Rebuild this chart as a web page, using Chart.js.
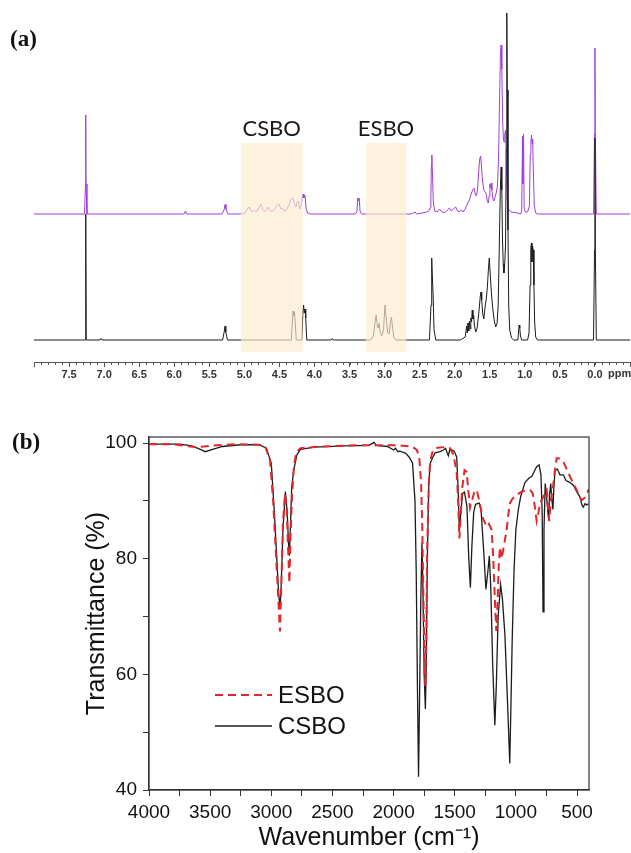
<!DOCTYPE html>
<html>
<head>
<meta charset="utf-8">
<script src="https://cdn.jsdelivr.net/npm/chart.js"></script>
<style>
  body { margin: 0; background: #fff; }
  #wrap { position: relative; width: 631px; height: 853px; }
  canvas { position: absolute; left: 0; }
  #nmrChart { top: 0; }
  #irChart { top: 395px; }
</style>
</head>
<body>
<div id="wrap">
  <canvas id="nmrChart" width="631" height="385"></canvas>
  <canvas id="irChart" width="631" height="458"></canvas>
</div>
<script>
// ── (a) 1H NMR traces: chemical shift (ppm) / signal height ──
// ESBO, lower black trace
const nmrEsboShift = [
  8.0, 7.30, 7.27, 7.262, 7.255, 7.06, 7.045, 7.03,
  5.31, 5.285, 5.275, 5.265, 5.24,
  4.33, 4.315, 4.305, 4.295, 4.285, 4.275, 4.26,
  4.18, 4.165, 4.155, 4.145, 4.135, 4.125, 4.11,
  3.76, 3.745, 3.73,
  3.20, 3.16, 3.135, 3.12, 3.105, 3.09, 3.078, 3.065, 3.04, 3.015, 2.995, 2.98,
  2.955, 2.935, 2.915, 2.902, 2.89, 2.87, 2.84,
  2.36, 2.338, 2.328, 2.318, 2.308, 2.295, 2.27,
  1.92, 1.85, 1.83, 1.82, 1.81, 1.80, 1.79, 1.78, 1.77, 1.76, 1.75, 1.74, 1.73, 1.72,
  1.70, 1.68, 1.655, 1.635, 1.625, 1.615, 1.60, 1.585, 1.565, 1.55, 1.535, 1.52,
  1.507, 1.495, 1.475, 1.455, 1.435, 1.415, 1.395, 1.38, 1.365, 1.35, 1.338, 1.328,
  1.318, 1.308, 1.298, 1.288, 1.275, 1.265, 1.257, 1.25, 1.24, 1.23, 1.215, 1.19, 1.16,
  1.10, 1.09, 1.082, 1.072, 1.062, 1.045,
  0.96, 0.94, 0.925, 0.915, 0.905, 0.898, 0.89, 0.88, 0.87, 0.86, 0.845, 0.82,
  0.02, 0.006, 0.0, -0.006, -0.02, -0.5
];
const nmrEsboSignal = [
  0, 0, 0, 126, 0, 0, 1.5, 0,
  0, 9, 14, 8, 0,
  0, 20, 29, 24, 28, 18, 0,
  0, 28, 35, 27, 31, 22, 0,
  0, 1.5, 0,
  0, 4, 18, 25, 14, 12, 17, 9, 4, 10, 35, 24,
  7, 6, 18, 23, 15, 3, 0,
  0, 35, 82, 62, 45, 10, 0,
  0, 3, 14, 7, 17, 9, 19, 11, 22, 18, 30, 21, 25, 15,
  8, 12, 28, 44, 48, 40, 26, 21, 34, 41, 52, 70,
  82, 68, 45, 30, 19, 13, 17, 35, 90, 150, 173, 150,
  100, 76, 67, 74, 95, 190, 327, 250, 110, 35, 10, 2, 0,
  0, 7, 15, 12, 4, 0,
  0, 7, 55, 92, 97, 78, 94, 90, 55, 18, 3, 0,
  0, 90, 202, 90, 0, 0
];
// CSBO, upper purple trace
const nmrCsboShift = [
  8.0, 7.28, 7.266, 7.262, 7.258, 7.245,
  5.86, 5.84, 5.825,
  5.32, 5.29, 5.275, 5.262, 5.235,
  5.06, 4.99, 4.955, 4.935, 4.91, 4.885, 4.855, 4.83, 4.795, 4.765, 4.74, 4.71,
  4.68, 4.655, 4.63, 4.60, 4.57, 4.53, 4.505, 4.48, 4.455, 4.43, 4.40, 4.37,
  4.335, 4.305, 4.285, 4.265, 4.245, 4.228, 4.21, 4.19, 4.172, 4.162, 4.152,
  4.142, 4.132, 4.118, 4.10, 4.06,
  3.42, 3.395, 3.383, 3.372, 3.362, 3.35, 3.33,
  2.62, 2.565, 2.545, 2.46, 2.40, 2.37, 2.35, 2.34, 2.332, 2.326, 2.318, 2.305, 2.285, 2.25,
  2.215, 2.185, 2.14, 2.105, 2.075, 2.05, 2.02, 1.985, 1.96, 1.93, 1.905, 1.88,
  1.85, 1.82, 1.79, 1.765, 1.745, 1.725, 1.708, 1.69, 1.675, 1.658, 1.645, 1.632,
  1.62, 1.605, 1.585, 1.565, 1.55, 1.535, 1.52, 1.51, 1.498, 1.49, 1.48, 1.47,
  1.455, 1.44, 1.425, 1.405, 1.39, 1.375, 1.36, 1.348, 1.338, 1.328, 1.315, 1.305,
  1.295, 1.285, 1.275, 1.265, 1.252, 1.235, 1.20, 1.10,
  1.06, 1.045, 1.033, 1.027, 1.018, 1.01, 0.995, 0.96,
  0.935, 0.922, 0.913, 0.905, 0.897, 0.888, 0.878, 0.865, 0.845, 0.82,
  0.02, 0.006, 0.0, -0.006, -0.02, -0.5
];
const nmrCsboSignal = [
  0, 0, 30, 99, 30, 0,
  0, 3, 0,
  0, 4, 9.5, 5, 0,
  0, 1, 5, 7, 4, 2, 4, 2, 6, 10, 5, 2.5,
  4, 7, 3, 2.5, 5, 9, 10, 5, 6, 3, 4, 8,
  15, 16, 10, 7, 12, 13, 5, 8, 18, 20, 16,
  19, 17, 5, 1, 0,
  0, 2, 16, 13, 16, 3, 0,
  0, 2, 0, 1, 2, 3, 6, 18, 50, 59, 42, 12, 3, 2,
  5, 2, 1.5, 4, 6, 3, 5, 7, 3, 2.5, 4, 2,
  5, 10, 14, 20, 24, 26, 20, 18, 24, 42, 54, 58,
  50, 34, 24, 22, 20, 13, 11, 18, 30, 26, 31, 24,
  15, 13, 17, 22, 28, 55, 115, 160, 169, 145, 90, 74,
  72, 80, 84, 55, 15, 5, 2, 1,
  0, 3, 78, 30, 80, 6, 2, 2,
  8, 60, 72, 79, 70, 75, 40, 8, 1, 0,
  0, 80, 166, 80, 0, 0
];
const nmrTickLabels = ['7.5', '7.0', '6.5', '6.0', '5.5', '5.0', '4.5', '4.0',
  '3.5', '3.0', '2.5', '2.0', '1.5', '1.0', '0.5', '0.0'];
const nmrRegionLabels = ['CSBO', 'ESBO'];
const nmrRegionFrom = [5.05, 3.27];
const nmrRegionTo = [4.17, 2.69];

// ── (b) FTIR: wavenumber (cm-1) / transmittance (%) ──
const irEsboWave = [
  4000, 3800, 3700, 3620, 3550, 3450, 3300, 3100, 3050, 3010, 2985, 2965, 2945, 2929,
  2918, 2905, 2888, 2875, 2863, 2852, 2842, 2830, 2815, 2795, 2760, 2600, 2300, 2100,
  1950, 1850, 1810, 1790, 1775, 1765, 1755, 1745, 1740, 1733, 1725, 1712, 1700, 1678,
  1640, 1580, 1539, 1510, 1484, 1472, 1462, 1452, 1440, 1420, 1402, 1390, 1375, 1360,
  1340, 1320, 1300, 1270, 1239, 1220, 1198, 1185, 1170, 1160, 1150, 1140, 1130, 1115,
  1100, 1075, 1060, 1048, 1030, 1007, 960, 911, 880, 862, 845, 830, 815, 803,
  780, 765, 748, 738, 727, 715, 699, 680, 666, 640, 612, 585, 557, 530,
  503, 480, 462, 440, 421, 405
];
const irEsboTrans = [
  99.8, 99.8, 99.5, 99.3, 99.4, 99.6, 99.8, 99.7, 99.4, 97, 90, 82, 74, 67.4,
  75, 86, 91.2, 89, 82, 75.8, 84, 91, 96, 98.5, 99.1, 99.4, 99.6, 99.6,
  99.6, 99.4, 98.8, 97.5, 93, 85, 72, 60, 58, 66, 82, 93, 97, 98.8,
  99.2, 99.3, 99.1, 98, 94.8, 90, 83.5, 87, 92, 95.3, 95, 92, 88.8, 90,
  91.5, 91.9, 90, 87, 85.5, 86, 85, 80, 72, 67.5, 72, 79, 82, 80,
  82, 85, 88, 89.6, 90.3, 90.8, 91.5, 91.9, 91.8, 91.3, 89, 86.5, 88, 89.6,
  90.5, 91.5, 91.9, 89, 86.5, 90, 91.9, 95.5, 97.4, 97.3, 96.8, 95.5, 94.2, 93,
  91.9, 90.8, 90.1, 90.5, 91, 92
];
const irCsboWave = [
  4000, 3750, 3650, 3580, 3540, 3480, 3400, 3250, 3100, 3040, 3000, 2975, 2955, 2940,
  2928, 2918, 2905, 2885, 2870, 2860, 2852, 2843, 2833, 2815, 2790, 2760, 2650, 2400,
  2200, 2160, 2140, 2050, 2000, 1985, 1965, 1948, 1900, 1870, 1845, 1825, 1815, 1805,
  1796, 1788, 1778, 1768, 1760, 1750, 1740, 1732, 1724, 1712, 1700, 1680, 1660, 1620,
  1593, 1575, 1560, 1552, 1540, 1525, 1505, 1484, 1472, 1462, 1450, 1435, 1420, 1400,
  1385, 1372, 1360, 1345, 1330, 1300, 1285, 1265, 1245, 1228, 1217, 1205, 1190, 1172,
  1160, 1145, 1125, 1110, 1090, 1068, 1050, 1040, 1030, 1015, 1000, 980, 960, 925,
  890, 870, 845, 830, 810, 795, 785, 778, 770, 760, 750, 740, 732, 725,
  715, 705, 697, 690, 680, 660, 640, 612, 590, 560, 530, 500, 476, 460,
  449, 435, 421, 405
];
const irCsboTrans = [
  99.8, 99.8, 99.5, 98.9, 98.5, 98.9, 99.4, 99.7, 99.7, 99.1, 96.5, 88, 80, 74,
  71.5, 76, 85, 91.6, 88, 83, 80.5, 86, 92.4, 95.5, 98, 98.9, 99.3, 99.5,
  99.6, 100.1, 99.6, 99.4, 98.8, 99.1, 98.5, 98.6, 98.2, 97.5, 96.5, 90, 78, 58,
  42.3, 55, 72, 82.8, 75, 60, 54, 62, 80, 93, 96.5, 97.5, 98.3, 98.5,
  98.8, 99.1, 98.2, 97.8, 98.9, 98.8, 98.6, 97.6, 92, 84.8, 88, 91.3, 91.5, 89,
  80, 75, 82, 88, 89.4, 89.6, 88.5, 82, 74.7, 78, 80.5, 75, 62, 51.2,
  58, 70, 75.5, 73, 67, 55, 44.6, 55, 66, 78, 85, 88.5, 90.8, 93.2,
  94, 94.2, 95.3, 95.9, 96.2, 94.5, 88, 70.8, 85, 93, 91, 88.5, 86.7, 91,
  93, 90, 88.5, 92, 95.3, 95.5, 94.5, 94.5, 93.5, 93.2, 92.7, 91.5, 90.7, 89.3,
  88.9, 89.5, 89.3, 89.5
];
const irXTicks = [4000, 3500, 3000, 2500, 2000, 1500, 1000, 500];
const irYTicks = [40, 60, 80, 100];

const pairUp = (xs, ys, lift = 0) => xs.map((x, i) => ({ x, y: ys[i] + lift }));

const SANS = '"Liberation Sans", Arial, sans-serif';
const SERIF = '"Liberation Serif", "Times New Roman", serif';

/* ════════════════════════════
   PANEL (a) – NMR
════════════════════════════ */
const nmrDecor = {
  id: 'nmrDecor',
  afterDatasetsDraw(chart) {
    const { ctx, chartArea: area, scales: { x } } = chart;
    ctx.save();
    // the bands sit over the traces, which washes them out like in the original
    nmrRegionLabels.forEach((name, i) => {
      const l = x.getPixelForValue(nmrRegionFrom[i]);
      const r = x.getPixelForValue(nmrRegionTo[i]);
      ctx.fillStyle = 'rgba(252,236,205,0.68)';
      ctx.fillRect(l, area.top + 143, r - l, area.bottom - 10 - (area.top + 143));
      ctx.fillStyle = '#1a1a1a';
      ctx.font = '22px Lato';
      ctx.textAlign = 'center';
      ctx.textBaseline = 'middle';
      ctx.fillText(name, (l + r) / 2, area.top + 129);
    });
    ctx.restore();
  },
  afterDraw(chart) {
    const { ctx, chartArea: area, scales: { x } } = chart;
    ctx.save();
    // minor ticks every 0.1 ppm
    ctx.strokeStyle = '#555';
    ctx.lineWidth = 1;
    ctx.beginPath();
    for (let k = -5; k <= 80; k++) {
      const px = Math.round(x.getPixelForValue(k / 10)) + 0.5;
      ctx.moveTo(px, area.bottom);
      ctx.lineTo(px, area.bottom + 3);
    }
    ctx.stroke();
    ctx.fillStyle = '#333';
    ctx.font = 'bold 11px ' + SANS;
    ctx.textBaseline = 'middle';
    ctx.textAlign = 'left';
    ctx.fillText('ppm', 608, area.bottom + 12);
    ctx.fillStyle = '#111';
    ctx.font = 'bold 23px ' + SERIF;
    ctx.fillText('(a)', 10, 40);
    ctx.restore();
  }
};

new Chart(document.getElementById('nmrChart'), {
  type: 'line',
  data: {
    datasets: [
      {
        label: 'ESBO',
        data: pairUp(nmrEsboShift, nmrEsboSignal),
        borderColor: '#1c1c1c',
        borderWidth: 1
      },
      {
        label: 'CSBO',
        data: pairUp(nmrCsboShift, nmrCsboSignal, 126),
        borderColor: '#a23fd8',
        borderWidth: 1
      }
    ]
  },
  options: {
    responsive: false,
    animation: false,
    devicePixelRatio: 1,
    layout: { padding: { left: 34, right: 0, top: 0, bottom: 0 } },
    elements: { point: { radius: 0 }, line: { tension: 0 } },
    plugins: { legend: { display: false }, tooltip: { enabled: false } },
    scales: {
      x: {
        type: 'linear',
        reverse: true,
        min: -0.5,
        max: 8.0,
        afterFit: s => { s.height = 23; },
        border: { color: '#555', width: 1 },
        grid: { drawOnChartArea: false, tickLength: 5, color: '#555' },
        ticks: {
          stepSize: 0.5,
          autoSkip: false,
          maxRotation: 0,
          padding: 1,
          color: '#333',
          font: { family: SANS, size: 11, weight: 'bold' },
          callback: v => {
            const s = (Math.round(v * 10) / 10).toFixed(1);
            return nmrTickLabels.includes(s) ? s : '';
          }
        }
      },
      y: { display: false, min: -22, max: 340 }
    }
  },
  plugins: [nmrDecor]
});

/* ════════════════════════════
   PANEL (b) – FTIR
════════════════════════════ */
const irDecor = {
  id: 'irDecor',
  afterDraw(chart) {
    const { ctx, chartArea: area } = chart;
    ctx.save();
    // closed frame
    ctx.strokeStyle = '#333';
    ctx.lineWidth = 1.2;
    ctx.strokeRect(area.left, area.top, area.right - area.left, area.bottom - area.top);

    // legend inside the plot, lower left
    const rows = chart.data.datasets;
    rows.forEach((ds, i) => {
      const y = area.top + 258 + i * 31;
      ctx.beginPath();
      ctx.strokeStyle = ds.borderColor;
      ctx.lineWidth = ds.borderWidth;
      ctx.setLineDash(ds.borderDash || []);
      ctx.moveTo(area.left + 66, y);
      ctx.lineTo(area.left + 123, y);
      ctx.stroke();
      ctx.setLineDash([]);
      ctx.fillStyle = '#111';
      ctx.font = '24px ' + SANS;
      ctx.textAlign = 'left';
      ctx.textBaseline = 'middle';
      ctx.fillText(ds.label, area.left + 129, y + 1);
    });

    ctx.fillStyle = '#111';
    ctx.font = 'bold 23px ' + SERIF;
    ctx.textBaseline = 'middle';
    ctx.fillText('(b)', 12, 48);
    ctx.restore();
  }
};

new Chart(document.getElementById('irChart'), {
  type: 'line',
  data: {
    datasets: [
      {
        label: 'ESBO',
        data: pairUp(irEsboWave, irEsboTrans),
        borderColor: '#e3262b',
        borderWidth: 2,
        borderDash: [8, 5]
      },
      {
        label: 'CSBO',
        data: pairUp(irCsboWave, irCsboTrans),
        borderColor: '#1c1c1c',
        borderWidth: 1.3
      }
    ]
  },
  options: {
    responsive: false,
    animation: false,
    devicePixelRatio: 1,
    layout: { padding: { left: 0, right: 42, top: 42, bottom: 0 } },
    elements: { point: { radius: 0 }, line: { tension: 0 } },
    plugins: { legend: { display: false }, tooltip: { enabled: false } },
    scales: {
      x: {
        type: 'linear',
        reverse: true,
        min: 402,
        max: 4000,
        afterFit: s => { s.height = 63; },
        border: { color: '#333', width: 1.2 },
        grid: { drawOnChartArea: false, tickLength: 6, color: '#333' },
        ticks: {
          stepSize: 250,
          includeBounds: false,
          autoSkip: false,
          maxRotation: 0,
          padding: 5,
          color: '#111',
          font: { family: SANS, size: 19 },
          callback: v => irXTicks.includes(v) ? String(v) : ''
        },
        title: {
          display: true,
          text: 'Wavenumber (cm\u207B\u00B9)',
          color: '#111',
          font: { family: SANS, size: 25 },
          padding: { top: 0, bottom: 0 }
        }
      },
      y: {
        min: 40,
        max: 101.04,
        afterFit: s => { s.width = 149; },
        border: { color: '#333', width: 1.2 },
        grid: { drawOnChartArea: false, tickLength: 6, color: '#333' },
        ticks: {
          stepSize: 10,
          includeBounds: false,
          autoSkip: false,
          padding: 6,
          color: '#111',
          font: { family: SANS, size: 19 },
          callback: v => irYTicks.includes(v) ? String(v) : ''
        },
        title: {
          display: true,
          text: 'Transmittance (%)',
          color: '#111',
          font: { family: SANS, size: 25 },
          padding: { top: 82, bottom: 0 }
        }
      }
    }
  },
  plugins: [irDecor]
});
</script>
</body>
</html>
